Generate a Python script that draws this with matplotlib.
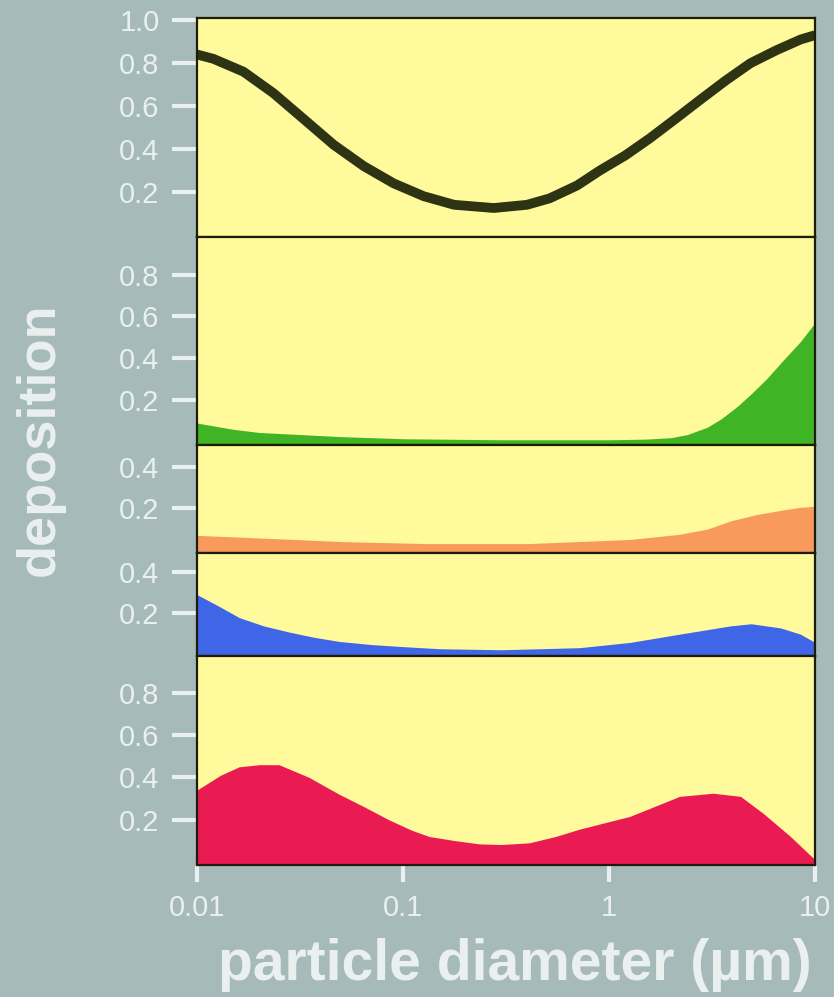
# Stacked deposition curves vs particle diameter (log x axis)

import matplotlib.pyplot as plt
from matplotlib.ticker import NullLocator

# total deposition (black line)
total_x = [0.01, 0.012, 0.0168, 0.0235, 0.0329, 0.046, 0.0645, 0.09, 0.126, 0.177, 0.276,
           0.4, 0.515, 0.7, 0.904, 1.2, 1.58, 2.1, 2.78, 3.7, 4.87, 6.5, 8.52, 10]
total_y = [0.84, 0.82, 0.76, 0.66, 0.54, 0.42, 0.32, 0.24, 0.18, 0.14, 0.125,
           0.14, 0.17, 0.23, 0.30, 0.37, 0.45, 0.54, 0.63, 0.72, 0.80, 0.86, 0.91, 0.93]

# green panel
green_x = [0.01, 0.015, 0.02, 0.05, 0.1, 0.3, 1.0, 1.5, 2.0, 2.4, 3.0, 3.5, 4.2, 4.9, 5.8, 7.0, 8.5, 10]
green_y = [0.09, 0.06, 0.045, 0.025, 0.015, 0.01, 0.01, 0.013, 0.02, 0.035, 0.07, 0.11, 0.17, 0.23, 0.30, 0.39, 0.48, 0.57]

# orange panel
orange_x = [0.01, 0.03, 0.05, 0.134, 0.4, 1.26, 2.2, 3.0, 3.9, 5.2, 6.8, 8.5, 10]
orange_y = [0.07, 0.05, 0.04, 0.03, 0.03, 0.05, 0.075, 0.10, 0.14, 0.17, 0.19, 0.205, 0.21]

# blue panel
blue_x = [0.01, 0.013, 0.016, 0.021, 0.028, 0.037, 0.049, 0.07, 0.1, 0.15, 0.3, 0.72, 1.26, 2.2, 3.9, 4.9, 6.8, 8.5, 10]
blue_y = [0.29, 0.23, 0.18, 0.14, 0.11, 0.085, 0.065, 0.05, 0.04, 0.03, 0.025, 0.035, 0.06, 0.10, 0.14, 0.15, 0.13, 0.10, 0.06]

# red panel
red_x = [0.01, 0.013, 0.016, 0.02, 0.025, 0.035, 0.049, 0.065, 0.085, 0.11, 0.134, 0.18, 0.235, 0.3,
         0.41, 0.55, 0.72, 1.26, 2.2, 3.2, 4.35, 5.6, 7.6, 10]
red_y = [0.34, 0.41, 0.45, 0.46, 0.46, 0.40, 0.32, 0.26, 0.20, 0.15, 0.12, 0.10, 0.085, 0.082,
         0.09, 0.12, 0.155, 0.215, 0.31, 0.325, 0.31, 0.23, 0.12, 0.01]

panel_ticks = [[0.2, 0.4, 0.6, 0.8, 1.0], [0.2, 0.4, 0.6, 0.8], [0.2, 0.4], [0.2, 0.4], [0.2, 0.4, 0.6, 0.8]]
panel_ylims = [(-0.01, 1.01), (-0.015, 0.98), (-0.015, 0.505), (-0.005, 0.49), (-0.015, 0.975)]
x_ticks = [0.01, 0.1, 1, 10]
x_labels = ['0.01', '0.1', '1', '10']

bg = '#a6bab9'
panel_bg = '#fffa9c'
txt = '#eaf0ef'

W, H = 834, 997
fig = plt.figure(figsize=(W / 100, H / 100), dpi=100, facecolor=bg)

# panel pixel extents (top, bottom)
extents = [(18, 237), (237, 445), (445, 553), (553, 656), (656, 865)]
left, right = 197, 815

axes = []
for (top, bot) in extents:
    ax = fig.add_axes([left / W, 1 - bot / H, (right - left) / W, (bot - top) / H])
    axes.append(ax)

fills = [(green_x, green_y, '#3fb525'), (orange_x, orange_y, '#f79a5c'),
         (blue_x, blue_y, '#3f66e6'), (red_x, red_y, '#ea1a52')]

for i, ax in enumerate(axes):
    ax.set_facecolor(panel_bg)
    ax.set_xscale('log')
    ax.set_xlim(0.01, 10)
    ax.set_ylim(*panel_ylims[i])
    ax.set_yticks(panel_ticks[i])
    ax.set_yticklabels(['%.1f' % t for t in panel_ticks[i]],
                       fontsize=21, color=txt, family='Liberation Sans')
    ax.xaxis.set_minor_locator(NullLocator())
    ax.tick_params(axis='y', direction='out', length=18, width=3, color=txt, pad=9)
    for s in ax.spines.values():
        s.set_color('#1c1c08')
        s.set_linewidth(1.6)
    if i == 0:
        ax.plot(total_x, total_y, color='#2e3313', lw=7, solid_capstyle='butt',
                solid_joinstyle='round')
    else:
        fx, fy, c = fills[i - 1]
        ax.fill_between(fx, panel_ylims[i][0], fy, color=c, lw=0)
    if i < 4:
        ax.set_xticks([])
    else:
        ax.set_xticks(x_ticks)
        ax.set_xticklabels(x_labels, fontsize=21, color=txt, family='Liberation Sans')
        ax.tick_params(axis='x', direction='out', length=12, width=3, color=txt, pad=9)

fig.text(40 / W, 1 - 439 / H, 'deposition', rotation=90, ha='center', va='center',
         fontsize=39, fontweight='bold', color=txt, family='Liberation Sans')
fig.text(515 / W, 1 - 965 / H, 'particle diameter (µm)', ha='center', va='center',
         fontsize=41, fontweight='bold', color=txt, family='Liberation Sans')

fig.savefig('out.png', dpi=100, facecolor=bg)
